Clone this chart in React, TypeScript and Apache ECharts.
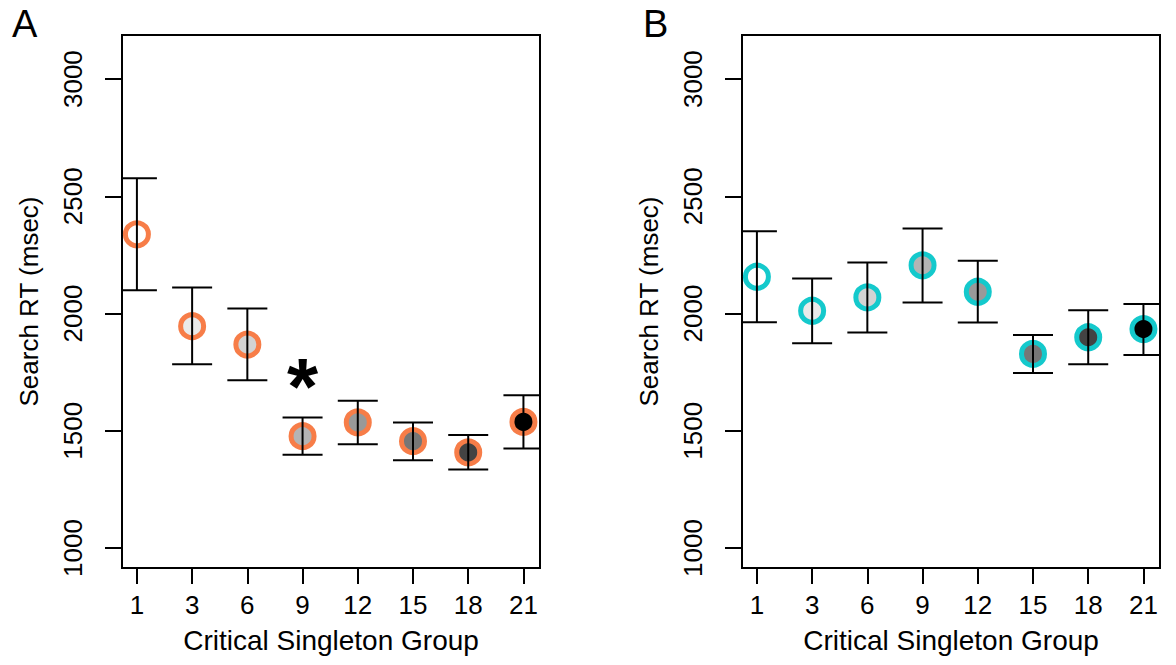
import React, { useEffect, useRef } from "react";
import * as echarts from "echarts";

const groups = ["1", "3", "6", "9", "12", "15", "18", "21"];
const meanA = [2338, 1946, 1868, 1477, 1536, 1456, 1408, 1538];
const lowA = [2100, 1784, 1716, 1398, 1443, 1375, 1335, 1425];
const highA = [2577, 2111, 2022, 1557, 1628, 1536, 1482, 1652];
const meanB = [2157, 2012, 2069, 2206, 2093, 1828, 1899, 1934];
const lowB = [1963, 1873, 1919, 2047, 1962, 1747, 1784, 1823];
const highB = [2351, 2150, 2218, 2363, 2225, 1909, 2014, 2041];
const fills = ["#ffffff", "#eaeaea", "#d3d3d3", "#b4b4b4", "#999999", "#767676", "#434343", "#000000"];
const yTicks = [1000, 1500, 2000, 2500, 3000];
const xPositions = [1, 2, 3, 4, 5, 6, 7, 8];
const starA = { x: 4, y: 1730 };

const ORANGE = "#f77d48";
const CYAN = "#14c9cc";
const FONT = "Liberation Sans, Arial, Helvetica, sans-serif";

export default function App() {
  const ref = useRef<HTMLDivElement>(null);
  useEffect(() => {
    if (!ref.current) return;
    const chart = echarts.init(ref.current, undefined, { renderer: "svg" });

    const grids = [
      { left: 122, top: 35, width: 418, height: 533 },
      { left: 742, top: 35, width: 418, height: 533 },
    ].map((g) => ({ ...g, show: true, borderColor: "#000", borderWidth: 2, backgroundColor: "transparent" }));

    const xAxisFor = (gi: number) => ({
      type: "value",
      gridIndex: gi,
      min: 0.73,
      max: 8.3,
      name: "Critical Singleton Group",
      nameLocation: "middle",
      nameGap: 58,
      nameTextStyle: { fontSize: 28, color: "#000", fontFamily: FONT },
      splitLine: { show: false },
      axisLine: { show: false },
      axisTick: { show: true, inside: false, length: 16, lineStyle: { color: "#000", width: 2 }, customValues: xPositions },
      axisLabel: {
        show: true,
        margin: 24,
        fontSize: 26,
        color: "#000",
        fontFamily: FONT,
        customValues: xPositions,
        formatter: (v: number) => groups[Math.round(v) - 1] ?? "",
      },
    });

    const yAxisFor = (gi: number) => ({
      type: "value",
      gridIndex: gi,
      min: 915,
      max: 3188,
      name: "Search RT (msec)",
      nameLocation: "middle",
      nameGap: 80,
      nameRotate: 90,
      nameTextStyle: { fontSize: 26, color: "#000", fontFamily: FONT },
      splitLine: { show: false },
      axisLine: { show: false },
      axisTick: { show: true, inside: false, length: 17, lineStyle: { color: "#000", width: 2 }, customValues: yTicks },
      axisLabel: {
        show: true,
        rotate: 90,
        margin: 36,
        fontSize: 26,
        color: "#000",
        fontFamily: FONT,
        customValues: yTicks,
        formatter: (v: number) => String(v),
      },
    });

    const errData = (low: number[], high: number[]) => low.map((l, i) => [xPositions[i], l, high[i]]);

    const errSeries = (gi: number, low: number[], high: number[]) => ({
      type: "custom",
      xAxisIndex: gi,
      yAxisIndex: gi,
      clip: true,
      z: 5,
      data: errData(low, high),
      encode: { x: 0, y: [1, 2] },
      renderItem: (params: any, api: any) => {
        const x = api.value(0);
        const lo = api.coord([x, api.value(1)]);
        const hi = api.coord([x, api.value(2)]);
        const hw = 20;
        const style = { stroke: "#000", lineWidth: 2 };
        return {
          type: "group",
          children: [
            { type: "line", shape: { x1: lo[0], y1: lo[1], x2: hi[0], y2: hi[1] }, style },
            { type: "line", shape: { x1: lo[0] - hw, y1: lo[1], x2: lo[0] + hw, y2: lo[1] }, style },
            { type: "line", shape: { x1: hi[0] - hw, y1: hi[1], x2: hi[0] + hw, y2: hi[1] }, style },
          ],
        };
      },
    });

    const pointSeries = (gi: number, mean: number[], stroke: string) => ({
      type: "scatter",
      xAxisIndex: gi,
      yAxisIndex: gi,
      z: 3,
      symbol: "circle",
      symbolSize: 23,
      data: mean.map((m, i) => ({
        value: [xPositions[i], m],
        itemStyle: { color: fills[i], borderColor: stroke, borderWidth: 5, opacity: 1 },
      })),
    });

    chart.setOption({
      animation: false,
      textStyle: { fontFamily: FONT },
      title: [
        { text: "A", left: 7, top: 0, textStyle: { fontSize: 38, fontWeight: "normal", color: "#000", fontFamily: FONT } },
        { text: "B", left: 638, top: 0, textStyle: { fontSize: 38, fontWeight: "normal", color: "#000", fontFamily: FONT } },
      ],
      grid: grids,
      xAxis: [xAxisFor(0), xAxisFor(1)],
      yAxis: [yAxisFor(0), yAxisFor(1)],
      series: [
        pointSeries(0, meanA, ORANGE),
        errSeries(0, lowA, highA),
        pointSeries(1, meanB, CYAN),
        errSeries(1, lowB, highB),
        {
          type: "scatter",
          xAxisIndex: 0,
          yAxisIndex: 0,
          z: 6,
          symbolSize: 1,
          itemStyle: { color: "transparent", opacity: 1 },
          data: [[starA.x, starA.y]],
          label: {
            show: true,
            position: "inside",
            formatter: "*",
            fontSize: 80,
            fontWeight: "bold",
            color: "#000",
            opacity: 1,
            fontFamily: FONT,
            offset: [0, 10],
          },
        },
      ],
    });
    return () => chart.dispose();
  }, []);
  return <div ref={ref} style={{ position: "fixed", left: 0, top: 0, width: 1176, height: 665, background: "#fff" }} />;
}
